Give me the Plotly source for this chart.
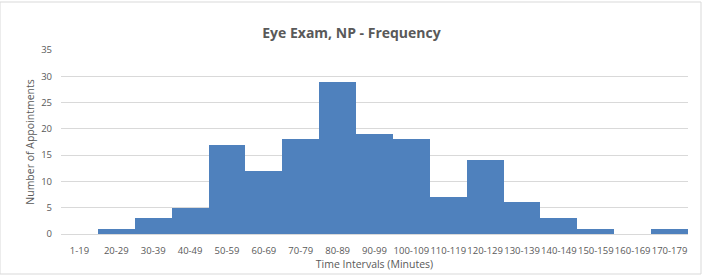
import plotly.graph_objects as go

categories = ["1-19", "20-29", "30-39", "40-49", "50-59", "60-69", "70-79", "80-89",
              "90-99", "100-109", "110-119", "120-129", "130-139", "140-149",
              "150-159", "160-169", "170-179"]
counts = [0, 1, 3, 5, 17, 12, 18, 29, 19, 18, 7, 14, 6, 3, 1, 0, 1]
y_ticks = [0, 5, 10, 15, 20, 25, 30, 35]

font_fam = "Open Sans, Liberation Sans, sans-serif"
grey = "#595959"

fig = go.Figure()
fig.add_trace(go.Bar(
    x=categories, y=counts,
    marker=dict(color="#4f81bd", line=dict(width=0)),
    hoverinfo="x+y",
))

fig.update_layout(
    width=703, height=276,
    margin=dict(l=61, r=15, t=50, b=42),
    paper_bgcolor="white", plot_bgcolor="white",
    bargap=0,
    showlegend=False,
    title=dict(text="<b>Eye Exam, NP - Frequency</b>", x=0.5, xanchor="center",
               y=1 - 33 / 276, yanchor="middle",
               font=dict(family=font_fam, size=14, color=grey)),
    font=dict(family=font_fam, size=9.5, color=grey),
    xaxis=dict(
        type="category", tickfont=dict(size=9.5, color=grey),
        showgrid=False, showline=True, linecolor="#d9d9d9", linewidth=1,
        ticks="", tickangle=0, ticklabelstandoff=8,
        title=dict(text="Time Intervals (Minutes)", font=dict(size=10.5, color=grey), standoff=0),
    ),
    yaxis=dict(
        range=[0, 35], tickvals=y_ticks, showgrid=True, gridcolor="#d9d9d9",
        zeroline=False, showline=False, ticks="", ticklabelstandoff=8,
        tickfont=dict(size=9.5, color=grey),
        title=dict(text="Number of Appointments", font=dict(size=10.5, color=grey), standoff=4),
    ),
    shapes=[dict(type="rect", xref="paper", yref="paper",
                 x0=-61 / 627, x1=1 + 13 / 627, y0=-40 / 184, y1=1 + 48 / 184,
                 line=dict(color="#d9d9d9", width=1), fillcolor="rgba(0,0,0,0)", layer="below")],
)

fig.write_html("out.html")
